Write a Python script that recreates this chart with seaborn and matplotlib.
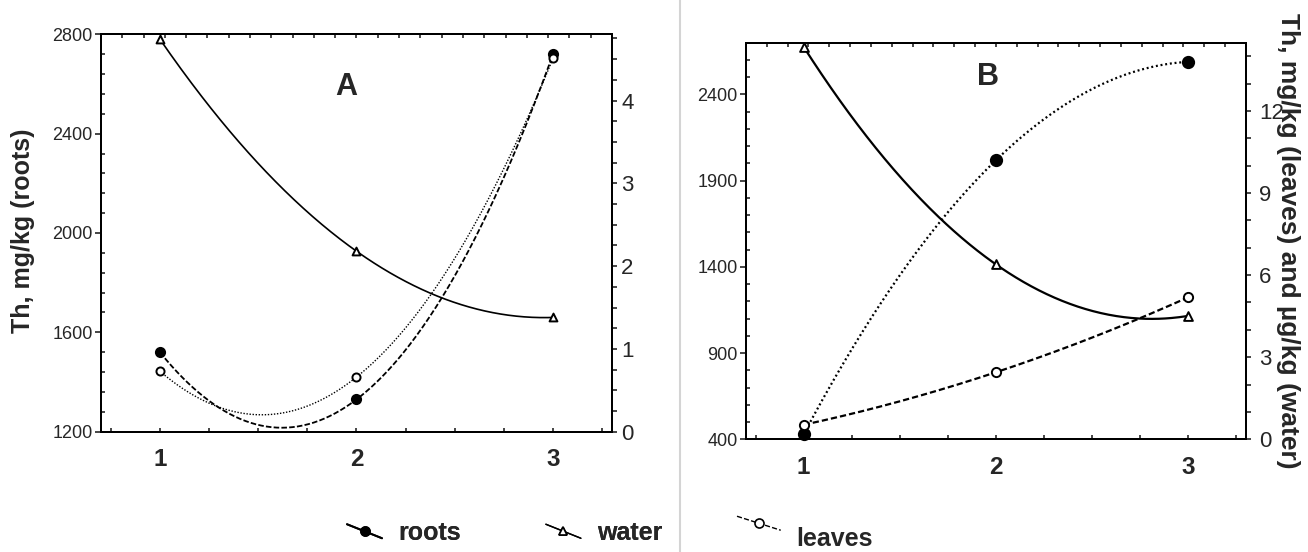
import numpy as np
import pandas as pd
import matplotlib
matplotlib.use("Agg")
import matplotlib.pyplot as plt
import seaborn as sns
from matplotlib.ticker import MultipleLocator
from matplotlib.lines import Line2D
from matplotlib.legend_handler import HandlerBase

# ---------------- data ----------------
stages = [1, 2, 3]
x_labels = ["1", "2", "3"]

a_roots = [1520, 1330, 2720]      # left axis (mg/kg)
a_leaves = [0.73, 0.66, 4.51]     # right axis
a_water = [4.74, 2.18, 1.38]      # right axis

b_roots = [429, 2018, 2588]       # left axis (mg/kg)
b_leaves = [0.53, 2.45, 5.19]     # right axis
b_water = [14.34, 6.39, 4.51]     # right axis

a_left_ticks = [1200, 1600, 2000, 2400, 2800]
a_right_ticks = [0, 1, 2, 3, 4]
b_left_ticks = [400, 900, 1400, 1900, 2400]
b_right_ticks = [0, 3, 6, 9, 12]

# ---------------- style ----------------
sns.set_style("ticks")
plt.rcParams["font.family"] = ["Liberation Sans", "DejaVu Sans"]
plt.rcParams["lines.scale_dashes"] = False
plt.rcParams["axes.linewidth"] = 1.4

fig = plt.figure(figsize=(13.08, 5.52), dpi=100)
axA = fig.add_axes([0.0772, 0.2179, 0.3907, 0.7200])
axB = fig.add_axes([0.5703, 0.2042, 0.3823, 0.7188])
axA2 = axA.twinx()
axB2 = axB.twinx()


def curve(x, y):
    coef = np.polyfit(x, y, 2)
    xs = np.linspace(min(x), max(x), 300)
    return pd.DataFrame({"x": xs, "y": np.polyval(coef, xs)})


def draw(ax, y, ls, lw, marker, s, filled, mew=1.4):
    c = curve(stages, y)
    sns.lineplot(data=c, x="x", y="y", ax=ax, color="black", lw=lw,
                 linestyle=ls, sort=False, zorder=3)
    df = pd.DataFrame({"x": stages, "y": y})
    sns.scatterplot(data=df, x="x", y="y", ax=ax, marker=marker, s=s,
                    facecolor="black" if filled else "white",
                    edgecolor="black", linewidth=mew, zorder=5, clip_on=False)
    ax.set_xlabel("")
    ax.set_ylabel("")


# Panel A
draw(axA, a_roots, (0, (4, 1.6)), 1.3, "o", 44, True)
draw(axA2, a_leaves, (0, (1, 1.2)), 1.0, "o", 34, False)
draw(axA2, a_water, "-", 1.2, "^", 32, False)

# Panel B
draw(axB, b_roots, (0, (1.4, 2.0)), 1.6, "o", 66, True)
draw(axB2, b_leaves, (0, (4.5, 2.2)), 1.6, "o", 44, False)
draw(axB2, b_water, "-", 1.6, "^", 40, False)


def style_axes(ax, ax2, ylim, yticks, yminor, y2lim, y2ticks, y2minor,
               lsize, rsize, rpad):
    ax.set_xlim(0.7, 3.3)
    ax.set_xticks(stages)
    ax.set_xticklabels(x_labels, fontweight="bold", fontsize=17.5)
    ax.xaxis.set_minor_locator(MultipleLocator(0.25))
    ax.tick_params(axis="x", which="both", direction="in", length=3,
                   width=1.2, pad=12, top=False)
    ax.set_ylim(*ylim)
    ax.set_yticks(yticks)
    ax.yaxis.set_minor_locator(MultipleLocator(yminor))
    ax.tick_params(axis="y", which="major", direction="out", length=4,
                   width=1.2, labelsize=lsize, pad=2)
    ax.tick_params(axis="y", which="minor", direction="in", length=3,
                   width=1.2)
    ax2.set_ylim(*y2lim)
    ax2.set_yticks(y2ticks)
    ax2.yaxis.set_minor_locator(MultipleLocator(y2minor))
    ax2.tick_params(axis="y", which="both", direction="out", length=3.5,
                    width=1.2, labelsize=rsize, pad=rpad)
    sec = ax.secondary_xaxis("top")
    sec.set_xticks(np.linspace(0.7, 3.3, 25))
    sec.set_xticklabels([])
    sec.tick_params(direction="in", length=3, width=1.2)
    for a in (ax, ax2):
        for sp in a.spines.values():
            sp.set_visible(True)
            sp.set_linewidth(1.4)
            sp.set_color("black")


style_axes(axA, axA2, (1200, 2800), a_left_ticks, 80, (0, 4.8),
           a_right_ticks, 0.25, 13, 16, 3)
style_axes(axB, axB2, (400, 2700), b_left_ticks, 100, (0, 14.5),
           b_right_ticks, 1, 13, 16, 6)

axA.set_ylabel("Th, mg/kg (roots)", fontsize=18, fontweight="bold")
axA.yaxis.set_label_coords(-0.129, 0.505)

fig.text(0.985, 0.5634, "Th, mg/kg (leaves) and µg/kg (water)",
         rotation=270, ha="center", va="center", fontsize=19,
         fontweight="bold")

axA.text(0.479, 0.867, "A", transform=axA.transAxes, fontsize=22,
         fontweight="bold", ha="center", va="center")
axB.text(0.484, 0.913, "B", transform=axB.transAxes, fontsize=22,
         fontweight="bold", ha="center", va="center")

# divider between panels
fig.add_artist(Line2D([680 / 1308, 680 / 1308], [0, 1],
                      transform=fig.transFigure, color="#d4d4d4", lw=1.5))


# ---------------- legend ----------------
class DiagHandler(HandlerBase):
    def __init__(self, yoff=0.0, **kw):
        super().__init__(**kw)
        self.yoff = yoff

    def create_artists(self, legend, orig_handle, xdescent, ydescent,
                       width, height, fontsize, trans):
        x0 = -xdescent
        x1 = x0 + width
        yb = -ydescent + self.yoff * height
        line = Line2D([x0, x1], [yb + 0.9 * height, yb + 0.1 * height],
                      color="black", lw=orig_handle.get_linewidth(),
                      linestyle=orig_handle.get_linestyle())
        mk = Line2D([(x0 + x1) / 2], [yb + 0.5 * height],
                    marker=orig_handle.get_marker(),
                    markersize=orig_handle.get_markersize(),
                    markerfacecolor=orig_handle.get_markerfacecolor(),
                    markeredgecolor="black", markeredgewidth=1.2,
                    linestyle="none")
        line.set_transform(trans)
        mk.set_transform(trans)
        return [line, mk]


h_roots = Line2D([], [], color="black", lw=1.4, linestyle="-", marker="o",
                 markersize=6.5, markerfacecolor="black")
h_water = Line2D([], [], color="black", lw=1.0, linestyle="-", marker="^",
                 markersize=5.5, markerfacecolor="white")
h_leaves = Line2D([], [], color="black", lw=1.0, linestyle=(0, (2, 3)),
                  marker="o", markersize=6.5, markerfacecolor="white")

leg1 = fig.legend(handles=[h_roots, h_water], labels=["roots", "water"],
                  handler_map={h_roots: DiagHandler(), h_water: DiagHandler()},
                  loc="center left", bbox_to_anchor=(347 / 1308, 1 - 533 / 552),
                  ncol=2, frameon=False, borderpad=0, borderaxespad=0,
                  handlelength=1.4, handletextpad=0.65, columnspacing=3.4,
                  prop={"weight": "bold", "size": 18})
leg2 = fig.legend(handles=[h_leaves], labels=["leaves"],
                  handler_map={h_leaves: DiagHandler(yoff=0.8)},
                  loc="center left", bbox_to_anchor=(737 / 1308, 1 - 539 / 552),
                  frameon=False, borderpad=0, borderaxespad=0,
                  handlelength=1.75, handletextpad=0.6,
                  prop={"weight": "bold", "size": 18})
fig.add_artist(leg1)

fig.savefig("out.png", dpi=100)
